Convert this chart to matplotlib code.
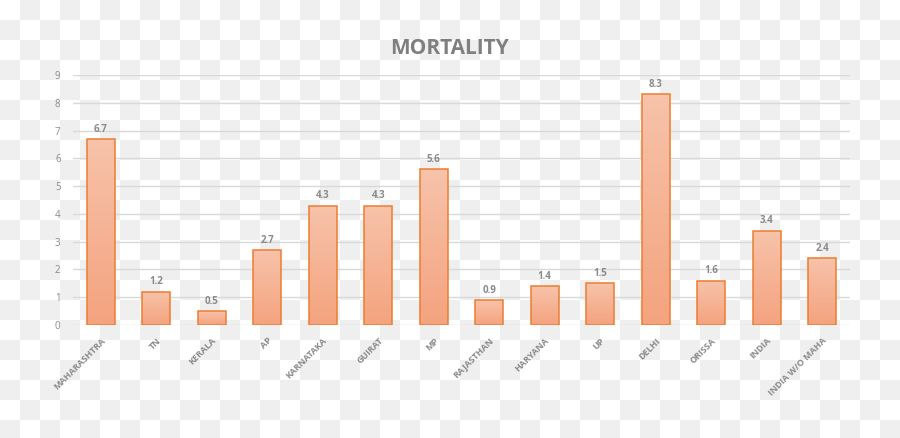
import matplotlib
matplotlib.use("Agg")
import matplotlib.pyplot as plt
import numpy as np
from matplotlib.colors import LinearSegmentedColormap

plt.rcParams["font.family"] = ["Open Sans", "DejaVu Sans"]

STATES = [
    "MAHARASHTRA", "TN", "KERALA", "AP", "KARNATAKA", "GUIRAT", "MP",
    "RAJASTHAN", "HARYANA", "UP", "DELHI", "ORISSA", "INDIA", "INDIA W/O MAHA",
]
MORTALITY = [6.7, 1.2, 0.5, 2.7, 4.3, 4.3, 5.6, 0.9, 1.4, 1.5, 8.3, 1.6, 3.4, 2.4]
Y_TICKS = list(range(0, 10))

TEXT_GREY = "#8a8a8a"
EDGE = "#ed7d31"

W, H = 900, 438
fig = plt.figure(figsize=(W / 100, H / 100), dpi=100)

# transparency checkerboard baked into the reference
yy, xx = np.mgrid[0:H, 0:W]
board = ((xx // 20 + yy // 20) % 2).astype(float)
bg = np.where(board[..., None] == 1, 0xef / 255, 1.0) * np.ones((1, 1, 3))
fig.figimage(bg, xo=0, yo=0, origin="upper", zorder=-10)

ax = fig.add_axes([73 / W, 1 - 325 / H, (850 - 73) / W, (325 - 75) / H])
ax.patch.set_alpha(0)

x = np.arange(len(STATES))
bars = ax.bar(x, MORTALITY, width=0.5, color="none", edgecolor=EDGE,
              linewidth=1.1, zorder=3)

grad = LinearSegmentedColormap.from_list("g", ["#f4a37f", "#f7c3aa"])
for b in bars:
    x0, y0 = b.get_x(), b.get_y()
    im = ax.imshow(np.linspace(0, 1, 64).reshape(-1, 1), cmap=grad, aspect="auto",
                   origin="lower", extent=[x0, x0 + b.get_width(), y0, y0 + b.get_height()],
                   zorder=2)
    im.set_clip_path(b)

for xi, v in zip(x, MORTALITY):
    ax.text(xi, v + 0.15, f"{v}", ha="center", va="bottom", fontsize=7,
            fontweight="bold", color=TEXT_GREY)

ax.set_xlim(-0.5, len(STATES) - 0.5)
ax.set_ylim(0, 9)
ax.set_yticks(Y_TICKS)
ax.set_yticklabels([str(t) for t in Y_TICKS], fontsize=7, color=TEXT_GREY)
ax.set_xticks(x)
ax.set_xticklabels(STATES, rotation=45, ha="right", rotation_mode="anchor",
                   fontsize=6.5, fontweight="bold", color=TEXT_GREY)
ax.tick_params(length=0, axis="both")
ax.tick_params(axis="y", pad=9)
ax.tick_params(axis="x", pad=8)

ax.grid(axis="y", color="#d9d9d9", linewidth=1, zorder=0)
ax.set_axisbelow(True)
for s in ax.spines.values():
    s.set_visible(False)

fig.text(0.5, 1 - 48 / H, "MORTALITY", ha="center", va="center", fontsize=15,
         fontweight="bold", color="#7f7f7f")

fig.savefig("out.png", dpi=100)
